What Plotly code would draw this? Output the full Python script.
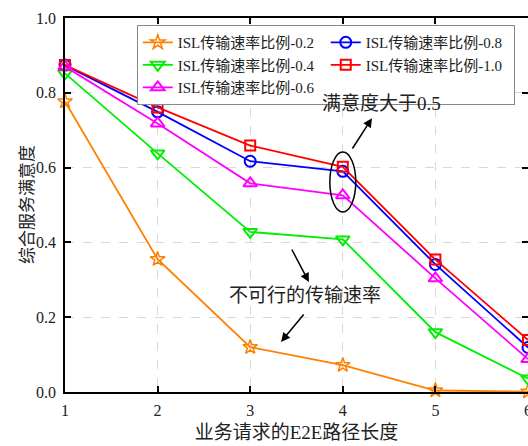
import plotly.graph_objects as go

# Path length of the E2E service request
path_len = [1, 2, 3, 4, 5, 6]

# Overall service satisfaction for each ISL rate ratio
sat_02 = [0.777, 0.355, 0.120, 0.072, 0.004, 0.001]
sat_04 = [0.852, 0.638, 0.428, 0.408, 0.160, 0.036]
sat_06 = [0.870, 0.718, 0.558, 0.526, 0.304, 0.088]
sat_08 = [0.874, 0.749, 0.617, 0.590, 0.341, 0.119]
sat_10 = [0.874, 0.761, 0.659, 0.602, 0.354, 0.139]

names = ["ISL传输速率比例-0.2", "ISL传输速率比例-0.8", "ISL传输速率比例-0.4",
         "ISL传输速率比例-1.0", "ISL传输速率比例-0.6"]
series = [sat_02, sat_08, sat_04, sat_10, sat_06]
colors = ["#FF8000", "#0000FF", "#00EE00", "#FF0000", "#FF00FF"]
symbols = ["star-open", "circle-open", "triangle-down-open", "square-open", "triangle-up-open"]
sizes = [11, 11, 12, 10, 12]
mlw = [1.5, 2, 2, 2, 2]

SERIF = "Liberation Serif, Noto Sans CJK SC"

fig = go.Figure()
for name, ys, c, s, sz, lw in zip(names, series, colors, symbols, sizes, mlw):
    fig.add_trace(go.Scatter(
        x=path_len, y=ys, name=name, mode="lines+markers",
        line=dict(color=c, width=1.8),
        marker=dict(symbol=s, size=sz, color=c, line=dict(color=c, width=lw)),
        cliponaxis=False,
    ))

# Ellipse around the path-length-4 points
fig.add_shape(type="circle", xref="x", yref="y",
              x0=3.86, x1=4.14, y0=0.481, y1=0.642,
              line=dict(color="black", width=1.5))

fig.add_annotation(x=4.315, y=0.732, ax=4.094, ay=0.647, xref="x", yref="y",
                   axref="x", ayref="y", text="", showarrow=True,
                   arrowhead=2, arrowsize=1.2, arrowwidth=1.5, arrowcolor="black")
fig.add_annotation(x=4.42, y=0.772, xref="x", yref="y", text="满意度大于0.5",
                   showarrow=False, font=dict(family=SERIF, size=19, color="#222"))

fig.add_annotation(x=3.634, y=0.294, ax=3.441, ay=0.385, xref="x", yref="y",
                   axref="x", ayref="y", text="", showarrow=True,
                   arrowhead=2, arrowsize=1.2, arrowwidth=1.5, arrowcolor="black")
fig.add_annotation(x=3.333, y=0.134, ax=3.591, ay=0.211, xref="x", yref="y",
                   axref="x", ayref="y", text="", showarrow=True,
                   arrowhead=2, arrowsize=1.2, arrowwidth=1.5, arrowcolor="black")
fig.add_annotation(x=3.591, y=0.257, xref="x", yref="y", text="不可行的传输速率",
                   showarrow=False, font=dict(family=SERIF, size=19, color="#222"))

# Vertical axis title
fig.add_annotation(x=-0.082, y=0.5, xref="paper", yref="paper", text="综合服务满意度",
                   textangle=-90, showarrow=False, xanchor="center", yanchor="middle",
                   font=dict(family=SERIF, size=17, color="#222"))

axis_common = dict(
    showline=True, linecolor="black", linewidth=1.5, mirror="ticks",
    ticks="inside", ticklen=6, tickwidth=1.5, tickcolor="black",
    showgrid=True, gridcolor="#d8d8d8", griddash="dash", gridwidth=1,
    zeroline=False, tickfont=dict(family=SERIF, size=16, color="#222"),
    ticklabeloverflow="allow",
)

fig.update_layout(
    template="none",
    width=528, height=446,
    margin=dict(l=65, r=0, t=18, b=54),
    paper_bgcolor="white", plot_bgcolor="white",
    font=dict(family=SERIF),
    xaxis=dict(range=[1, 6], tickvals=path_len, ticklabelstandoff=3,
               title=dict(text="业务请求的E2E路径长度", standoff=8,
                          font=dict(family=SERIF, size=19, color="#222")),
               **axis_common),
    yaxis=dict(range=[0, 1.0], tickvals=[0, 0.2, 0.4, 0.6, 0.8, 1.0],
               ticktext=["0.0", "0.2", "0.4", "0.6", "0.8", "1.0"], ticklabelstandoff=4,
               **axis_common),
    legend=dict(orientation="h", x=0.155, y=0.981, xanchor="left", yanchor="top",
                entrywidth=143, itemwidth=30, bgcolor="white",
                bordercolor="#888", borderwidth=1, tracegroupgap=0,
                font=dict(family=SERIF, size=15, color="#222")),
    showlegend=True,
)

fig.write_html("out.html")
